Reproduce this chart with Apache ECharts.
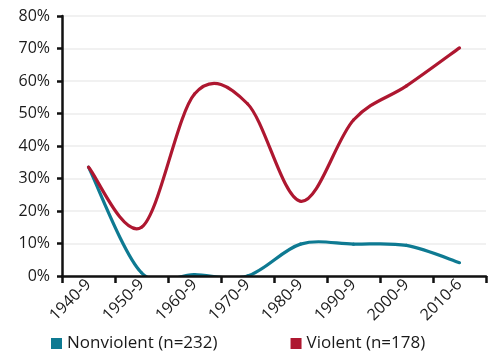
<!DOCTYPE html>
<html>
<head>
<meta charset="utf-8">
<script src="https://cdn.jsdelivr.net/npm/echarts@6/dist/echarts.min.js"></script>
<style>
html, body { margin: 0; padding: 0; background: #fff; }
#chart1 { width: 496px; height: 356px; }
</style>
</head>
<body>
<div id="chart1"></div>
<script>
// 数据
var decades = ['1940-9', '1950-9', '1960-9', '1970-9', '1980-9', '1990-9', '2000-9', '2010-6'];
var nonviolent = [33.5, 1, 0.4, 0, 9.8, 9.8, 9.4, 4.1];
var violent = [33.5, 15, 56, 53, 23, 48, 58.5, 70.2];
var yTicks = [0, 10, 20, 30, 40, 50, 60, 70, 80];

var font = '"Open Sans", "Noto Sans", sans-serif';
var teal = '#0e7a92';
var red = '#ae1730';

var myChart = echarts.init(document.getElementById('chart1'));

// 平滑曲线：每一段用 Catmull-Rom 控制点画贝塞尔，坐标全部来自 api.coord
function spline(values, color) {
	return function(params, api) {
		var i = params.dataIndex;
		if (i === 0) return null;
		var pt = function(k) {
			k = Math.max(0, Math.min(values.length - 1, k));
			return api.coord([k, values[k]]);
		};
		var p0 = pt(i - 2), p1 = pt(i - 1), p2 = pt(i), p3 = pt(i + 1);
		return {
			type : 'bezierCurve',
			shape : {
				x1 : p1[0], y1 : p1[1],
				x2 : p2[0], y2 : p2[1],
				cpx1 : p1[0] + (p2[0] - p0[0]) / 6,
				cpy1 : p1[1] + (p2[1] - p0[1]) / 6,
				cpx2 : p2[0] - (p3[0] - p1[0]) / 6,
				cpy2 : p2[1] - (p3[1] - p1[1]) / 6
			},
			style : { stroke : color, lineWidth : 3.2, fill : null, lineCap : 'round' }
		};
	};
}

function toPairs(values) {
	return values.map(function(v, i) { return [i, v]; });
}

var option = {
	animation : false,
	textStyle : { fontFamily : font },
	grid : {
		left : 62,
		right : 10,
		top : 16,
		bottom : 80
	},
	legend : {
		top : 330,
		left : 46,
		itemWidth : 11,
		itemHeight : 11,
		itemGap : 73,
		icon : 'rect',
		textStyle : { fontSize : 17, color : '#1a1a1a', fontFamily : font },
		data : ['Nonviolent (n=232)', 'Violent (n=178)']
	},
	xAxis : {
		type : 'category',
		data : decades,
		boundaryGap : true,
		z : 5,
		axisLine : { lineStyle : { color : '#111', width : 2.5 } },
		axisTick : { show : true, length : 7, lineStyle : { color : '#111', width : 2.5 } },
		axisLabel : {
			rotate : 45,
			margin : 6,
			fontSize : 16,
			color : '#1a1a1a'
		}
	},
	yAxis : {
		type : 'value',
		min : yTicks[0],
		max : yTicks[yTicks.length - 1],
		interval : 10,
		axisLine : { show : true, lineStyle : { color : '#111', width : 2.5 } },
		axisTick : { show : true, length : 5, lineStyle : { color : '#111', width : 2.5 } },
		splitLine : { lineStyle : { color : '#ececec', width : 1.5 } },
		axisLabel : {
			margin : 12,
			fontSize : 16,
			color : '#1a1a1a',
			formatter : '{value}%'
		}
	},
	series : [
		{
			name : 'Nonviolent (n=232)',
			type : 'custom',
			clip : true,
			renderItem : spline(nonviolent, teal),
			data : toPairs(nonviolent),
			itemStyle : { color : teal },
			z : 2
		},
		{
			name : 'Violent (n=178)',
			type : 'custom',
			clip : true,
			renderItem : spline(violent, red),
			data : toPairs(violent),
			itemStyle : { color : red },
			z : 3
		}
	]
};

myChart.setOption(option);
</script>
</body>
</html>
